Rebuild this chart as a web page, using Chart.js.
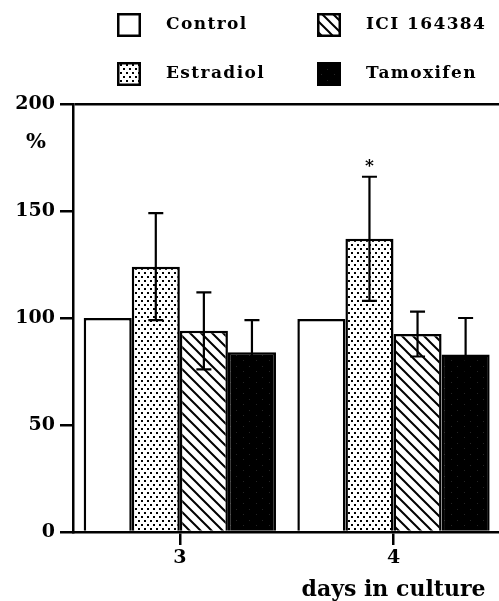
<!DOCTYPE html>
<html>
<head>
<meta charset="utf-8">
<script src="https://cdn.jsdelivr.net/npm/chart.js@4"></script>
<style>
  html, body { margin: 0; padding: 0; background: #fff; width: 499px; height: 601px; overflow: hidden; }
  #wrap { position: relative; width: 730px; height: 601px; }
</style>
</head>
<body>
<div id="wrap"><canvas id="c" width="730" height="601"></canvas></div>
<script>
// Days in culture (the last slot keeps room for the next day's group)
const days = ['3', '4', ''];
const seriesNames = ['Control', 'Estradiol', 'ICI 164384', 'Tamoxifen'];

// Cell growth, % of control
const control   = [100, 99.5, null];
const estradiol = [124, 137, null];
const ici       = [94, 92.5, null];
const tamoxifen = [84, 83, null];

// Error (± SD)
const controlErr   = [0, 0, null];
const estradiolErr = [25, 29, null];
const iciErr       = [18, 10.5, null];
const tamoxifenErr = [15, 17, null];

// Significance marks
const estradiolSig = ['', '*', ''];

const yTicks = [0, 50, 100, 150, 200];

const FONT = 'DejaVu Serif';

// ---- fill patterns ----
function makeTile(w, h, paint) {
  const c = document.createElement('canvas');
  c.width = w; c.height = h;
  paint(c.getContext('2d'), w, h);
  return c;
}
const ctx0 = document.getElementById('c').getContext('2d');

const dotPattern = ctx0.createPattern(makeTile(6, 8, (g, w, h) => {
  g.fillStyle = '#fff'; g.fillRect(0, 0, w, h);
  g.fillStyle = '#000';
  g.fillRect(0, 0, 2, 2);
  g.fillRect(3, 4, 2, 2);
}), 'repeat');

const hatchPattern = ctx0.createPattern(makeTile(11, 11, (g, s) => {
  g.fillStyle = '#fff'; g.fillRect(0, 0, s, s);
  g.strokeStyle = '#000'; g.lineWidth = 2;
  g.beginPath();
  g.moveTo(-2, -2); g.lineTo(s + 2, s + 2);
  g.moveTo(-2, s - 2); g.lineTo(2, s + 2);
  g.moveTo(s - 2, -2); g.lineTo(s + 2, 2);
  g.stroke();
}), 'repeat');

const darkPattern = ctx0.createPattern(makeTile(13, 11, (g, w, h) => {
  g.fillStyle = '#000'; g.fillRect(0, 0, w, h);
  g.fillStyle = '#262626';
  g.fillRect(2, 3, 1, 1);
  g.fillRect(9, 8, 1, 1);
}), 'repeat');

const values = [control, estradiol, ici, tamoxifen];
const errors = [controlErr, estradiolErr, iciErr, tamoxifenErr];
const marks  = [null, estradiolSig, null, null];
const fills  = ['#ffffff', dotPattern, hatchPattern, darkPattern];

// ---- plugins ----
const errorBars = {
  id: 'errorBars',
  afterDatasetsDraw(chart) {
    const { ctx } = chart;
    const y = chart.scales.y;
    ctx.save();
    ctx.strokeStyle = '#000';
    ctx.lineWidth = 2.2;
    chart.data.datasets.forEach((ds, i) => {
      const meta = chart.getDatasetMeta(i);
      meta.data.forEach((bar, j) => {
        const v = ds.data[j], e = ds.err[j];
        if (v == null || !e) return;
        const yHi = y.getPixelForValue(v + e);
        const yLo = y.getPixelForValue(v - e);
        const half = 7.5;
        ctx.beginPath();
        ctx.moveTo(bar.x, yHi); ctx.lineTo(bar.x, yLo);
        ctx.moveTo(bar.x - half, yHi); ctx.lineTo(bar.x + half, yHi);
        ctx.moveTo(bar.x - half, yLo); ctx.lineTo(bar.x + half, yLo);
        ctx.stroke();
        const m = ds.marks && ds.marks[j];
        if (m) {
          ctx.fillStyle = '#000';
          ctx.font = 'bold 17px "' + FONT + '"';
          ctx.textAlign = 'center';
          ctx.textBaseline = 'middle';
          ctx.fillText(m, bar.x, yHi - 10);
        }
      });
    });
    ctx.restore();
  }
};

const extras = {
  id: 'extras',
  afterDraw(chart) {
    const { ctx } = chart;
    const y = chart.scales.y;
    ctx.save();
    // unit label under the top tick
    ctx.fillStyle = '#000';
    ctx.font = 'bold 21px "' + FONT + '"';
    ctx.textAlign = 'center';
    ctx.textBaseline = 'middle';
    ctx.fillText('%', 36, y.getPixelForValue(182));

    // two-column legend with pattern swatches
    chart.data.datasets.forEach((ds, i) => {
      const col = Math.floor(i / 2), row = i % 2;
      const x = 117 + col * 200, top = 13 + row * 49;
      ctx.fillStyle = ds.backgroundColor;
      ctx.fillRect(x, top, 24, 24);
      ctx.strokeStyle = '#000';
      ctx.lineWidth = 2.5;
      ctx.strokeRect(x + 1.25, top + 1.25, 21.5, 21.5);
      ctx.fillStyle = '#000';
      ctx.font = 'bold 17px "' + FONT + '"';
      ctx.letterSpacing = '1.4px';
      ctx.textAlign = 'left';
      ctx.textBaseline = 'middle';
      ctx.fillText(ds.label, x + 49, top + 12);
    });
    ctx.restore();
  }
};

new Chart(document.getElementById('c'), {
  type: 'bar',
  data: {
    labels: days,
    datasets: seriesNames.map((name, i) => ({
      label: name,
      data: values[i],
      err: errors[i],
      marks: marks[i],
      backgroundColor: fills[i],
      borderColor: '#000',
      borderWidth: 2.5,
      categoryPercentage: 0.9,
      barPercentage: 1.0
    }))
  },
  options: {
    responsive: false,
    animation: false,
    events: [],
    layout: { padding: { top: 104, right: 16, left: 0, bottom: 0 } },
    plugins: { legend: { display: false }, tooltip: { enabled: false } },
    scales: {
      x: {
        afterFit(scale) { scale.height = 69; },
        grid: { offset: false, drawOnChartArea: false, color: '#000', lineWidth: 2.5, tickLength: 13 },
        border: { color: '#000', width: 2.5 },
        ticks: { color: '#000', padding: 2, font: { family: FONT, weight: 'bold', size: 19 } },
        title: {
          display: true,
          text: 'days in culture',
          color: '#000',
          padding: { top: 0, bottom: 0 },
          font: { family: FONT, weight: 'bold', size: 22, lineHeight: 1 }
        }
      },
      y: {
        min: 0,
        max: 200,
        afterFit(scale) { scale.width = 73; },
        afterBuildTicks(scale) { scale.ticks = yTicks.map(v => ({ value: v })); },
        grid: {
          color: ctx => (ctx.tick && ctx.tick.value === 200 ? '#000' : 'rgba(0,0,0,0)'),
          tickColor: '#000',
          lineWidth: 2.5,
          tickLength: 13
        },
        border: { color: '#000', width: 2.5 },
        ticks: { color: '#000', padding: 5, font: { family: FONT, weight: 'bold', size: 19 } }
      }
    }
  },
  plugins: [errorBars, extras]
});
</script>
</body>
</html>
